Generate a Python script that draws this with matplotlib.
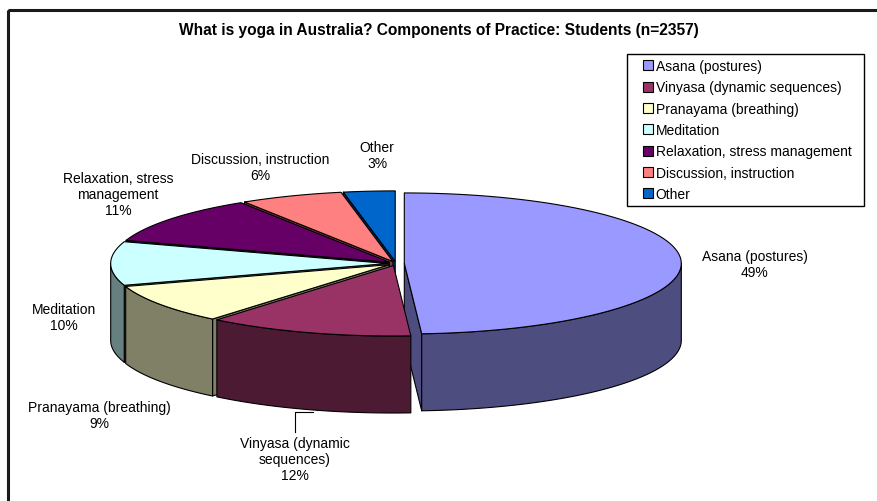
import numpy as np
import matplotlib
matplotlib.use("Agg")
import matplotlib.pyplot as plt
from matplotlib.patches import Polygon, Rectangle, Patch
from matplotlib.legend_handler import HandlerPatch

# ---- data -------------------------------------------------------------
categories = ["Asana (postures)", "Vinyasa (dynamic sequences)",
              "Pranayama (breathing)", "Meditation",
              "Relaxation, stress management", "Discussion, instruction",
              "Other"]
shares = [49, 12, 9, 10, 11, 6, 3]
slice_labels = ["Asana (postures)\n49%",
                "Vinyasa (dynamic\nsequences)\n12%",
                "Pranayama (breathing)\n9%",
                "Meditation\n10%",
                "Relaxation, stress\nmanagement\n11%",
                "Discussion, instruction\n6%",
                "Other\n3%"]
colors = ["#9999FF", "#993366", "#FFFFCC", "#CCFFFF",
          "#660066", "#FF8080", "#0066CC"]
title = "What is yoga in Australia? Components of Practice: Students (n=2357)"

# ---- layout (pixels) --------------------------------------------------
W, H = 878, 502
CX, CY = 396.0, 264.5      # pie centre
RX, RY = 277.0, 70.5       # ellipse radii of the top face
DEPTH = 77.0               # thickness of the pie
EXPLODE = 0.03             # fraction of radius each slice is pulled out
label_xy = [(755, 265), (295, 460), (99, 416), (64, 318),
            (118, 195), (260, 168), (377, 156)]
FONT = "Liberation Sans"

plt.rcParams["font.family"] = [FONT, "DejaVu Sans"]
fig = plt.figure(figsize=(W / 100, H / 100), dpi=100)
ax = fig.add_axes([0, 0, 1, 1])
ax.set_xlim(0, W)
ax.set_ylim(H, 0)
ax.axis("off")

# chart-area frame
ax.add_patch(Rectangle((8.5, 10.5), W + 20, H + 20, fill=False,
                       edgecolor="#1a1a1a", linewidth=2.2, zorder=1))


def shade(hex_color, f):
    c = np.array(matplotlib.colors.to_rgb(hex_color))
    return tuple(c * f)


def rim(cx, cy, a0, a1, n=80):
    t = np.radians(np.linspace(a0, a1, n))
    return np.column_stack([cx + RX * np.sin(t), cy - RY * np.cos(t)])


total = float(sum(shares))
bounds = np.concatenate([[0], np.cumsum(shares)]) / total * 360.0

slices = []
for i, col in enumerate(colors):
    a0, a1 = bounds[i], bounds[i + 1]
    mid = np.radians((a0 + a1) / 2)
    cx = CX + EXPLODE * RX * np.sin(mid)
    cy = CY - EXPLODE * RY * np.cos(mid)
    slices.append((-np.cos(mid), i, a0, a1, cx, cy, col))

# paint from the back of the pie to the front
ek = dict(edgecolor="black", linewidth=0.8, joinstyle="round")
z = 2
for _, i, a0, a1, cx, cy, col in sorted(slices):
    side = shade(col, 0.5)
    faces = []
    # cut faces along the radii
    for ang, visible in ((a0, np.sin(np.radians(a0)) < -1e-6),
                         (a1, np.sin(np.radians(a1)) > 1e-6)):
        if visible:
            p = rim(cx, cy, ang, ang, 1)[0]
            faces.append(np.array([[cx, cy], p, p + [0, DEPTH],
                                   [cx, cy + DEPTH]]))
    # outer wall on the front half
    lo, hi = max(a0, 90.0), min(a1, 270.0)
    if hi > lo:
        top = rim(cx, cy, lo, hi)
        faces.append(np.vstack([top, (top + [0, DEPTH])[::-1]]))
    for f in faces:
        ax.add_patch(Polygon(f, closed=True, facecolor=side, zorder=z, **ek))
        z += 1
    top_face = np.vstack([[cx, cy], rim(cx, cy, a0, a1)])
    ax.add_patch(Polygon(top_face, closed=True, facecolor=col, zorder=z, **ek))
    z += 1

# data labels
for txt, (x, y) in zip(slice_labels, label_xy):
    ax.text(x, y, txt, ha="center", va="center", multialignment="center",
            fontsize=10, linespacing=1.15, color="black", zorder=50)

# leader line for the Vinyasa label
ax.plot([313, 295, 295], [413, 413, 433], color="black", linewidth=0.8,
        zorder=50)

# title
ax.text(439, 31, title, ha="center", va="center", fontsize=11.2,
        fontweight="bold", zorder=50)


# legend: small square keys sitting at the right end of the handle box
def square_key(legend, orig_handle, xdescent, ydescent, width, height,
               fontsize):
    s = 0.72 * fontsize
    return Rectangle((width - s - xdescent, -ydescent + (height - s) / 2),
                     s, s)


handles = [Patch(facecolor=c, edgecolor="black", linewidth=0.8)
           for c in colors]
leg = ax.legend(handles, categories, loc="upper left",
                bbox_to_anchor=(627, 55, 237, 148),
                bbox_transform=ax.transData, mode="expand",
                fontsize=10, frameon=True, fancybox=False,
                edgecolor="black", framealpha=1, borderaxespad=0,
                handlelength=1.5, handleheight=0.75, handletextpad=0.2,
                labelspacing=0.53, borderpad=0.36,
                handler_map={Patch: HandlerPatch(patch_func=square_key)})
leg.get_frame().set_linewidth(1.0)
leg.set_zorder(60)

fig.savefig("out.png", dpi=100)
